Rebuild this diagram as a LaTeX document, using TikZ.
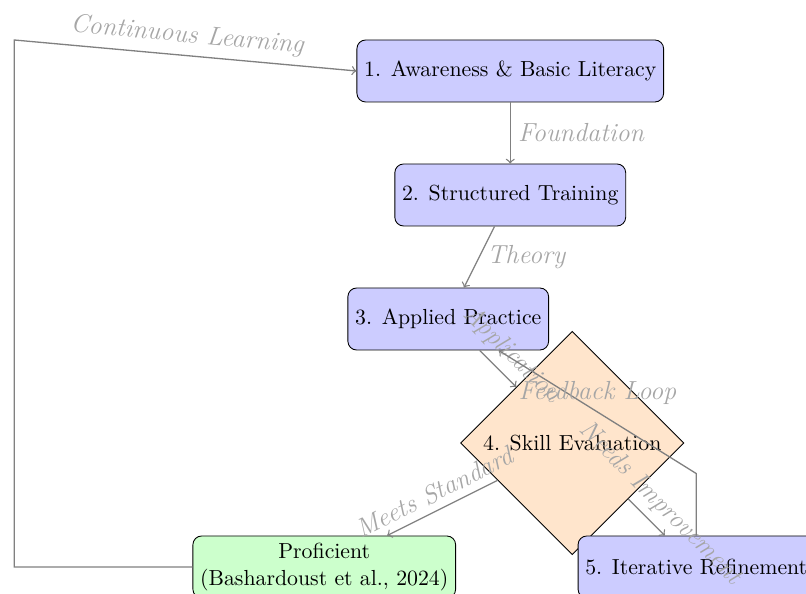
\documentclass[tikz,border=0pt]{standalone}
\usepackage{amsmath}
\usepackage{tikz}
\usetikzlibrary{positioning,shapes.geometric}
\tikzset{  stage/.style={draw,rounded corners,fill=blue!20,minimum height=1cm},
  goal/.style={stage,fill=green!20,align=center},
  check/.style={draw,diamond,fill=orange!20},
  flow/.style={->,gray,semithick},
  tag/.style={font=\large\itshape,text=gray!70} }

\begin{document}
\begin{tikzpicture}[node distance=2cm,on grid]
   \useasboundingbox (-8.23,1.145) rectangle (4.77,-8.42);
   \node[stage] (aware) {1. Awareness \& Basic Literacy};
   \node[stage,below=of aware] (train) {2. Structured Training};
   \node[stage,below left=2cm and 1cm of train] (apply) {3. Applied Practice};
   \node[check,below right=2cm and 2cm of apply] (eval) {4. Skill Evaluation};
   \node[stage,below right=2cm and 2cm of eval] (refine) {5. Iterative Refinement};
   \node[goal,below left=2cm and 4cm of eval] (prof) {Proficient\\(Bashardoust et al., 2024)};
   \draw[flow] (aware) -- node[tag,right] {Foundation} (train);
   \draw[flow] (train) -- node[tag,right] {Theory} (apply);
   \draw[flow] (apply) -- node[tag,above,sloped] {Application} (eval);
   \draw[flow] (eval) -- node[tag,above,sloped] {Meets Standard} (prof);
   \draw[flow] (eval) -- node[tag,above,sloped] {Needs Improvement} (refine);
   \draw[flow] (refine.north) -- ++(0,1) -- node[tag,above] {Feedback Loop} (apply);
   \draw[flow] (prof.west) -| (-8,0.5) -- node[tag,above,sloped] {Continuous Learning} (aware.west);
  \end{tikzpicture}
\end{document}
